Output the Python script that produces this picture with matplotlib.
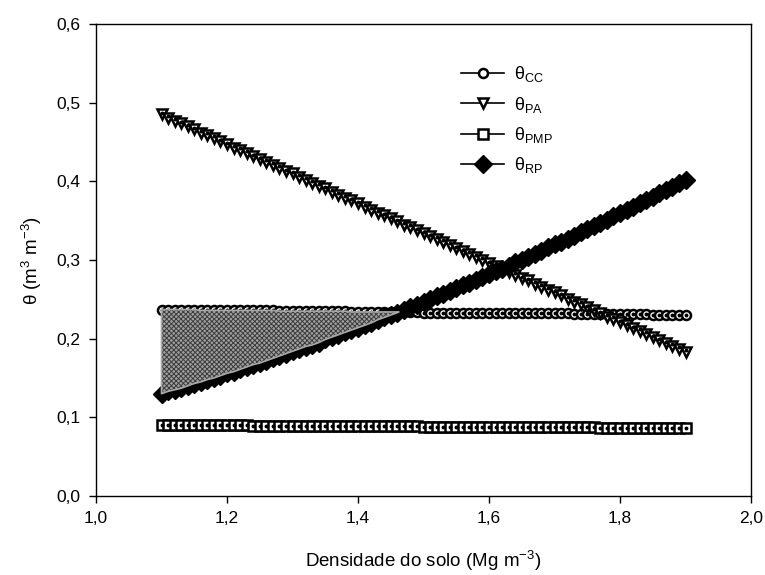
import numpy as np
import matplotlib.pyplot as plt

plt.rcParams['font.family'] = ['Liberation Sans', 'DejaVu Sans']
plt.rcParams['mathtext.fontset'] = 'custom'
plt.rcParams['mathtext.rm'] = 'Liberation Sans'
plt.rcParams['mathtext.it'] = 'Liberation Sans:italic'
plt.rcParams['hatch.linewidth'] = 0.7

# soil bulk density (Mg m-3), one point every 0.01
ds = np.round(np.arange(110, 191) / 100, 2)

theta_cc = [0.237] * 6 + [0.236] * 12 + [0.235] * 11 + [0.234] * 11 + \
           [0.233] * 12 + [0.232] * 11 + [0.231] * 12 + [0.230] * 6

theta_pa = [0.485, 0.481, 0.477, 0.474, 0.470, 0.466, 0.462, 0.459, 0.455, 0.451,
            0.447, 0.443, 0.440, 0.436, 0.432, 0.428, 0.425, 0.421, 0.417, 0.413,
            0.410, 0.406, 0.402, 0.398, 0.394, 0.391, 0.387, 0.383, 0.379, 0.376,
            0.372, 0.368, 0.364, 0.360, 0.357, 0.353, 0.349, 0.345, 0.342, 0.338,
            0.334, 0.330, 0.327, 0.323, 0.319, 0.315, 0.311, 0.308, 0.304, 0.300,
            0.296, 0.293, 0.289, 0.285, 0.281, 0.277, 0.274, 0.270, 0.266, 0.262,
            0.259, 0.255, 0.251, 0.247, 0.244, 0.240, 0.236, 0.232, 0.228, 0.225,
            0.221, 0.217, 0.213, 0.210, 0.206, 0.202, 0.198, 0.194, 0.191, 0.187,
            0.183]

theta_pmp = [0.090] * 14 + [0.089] * 26 + [0.088] * 27 + [0.087] * 14

theta_rp = [0.130, 0.133, 0.135, 0.137, 0.140, 0.143, 0.145, 0.148, 0.150, 0.153,
            0.156, 0.158, 0.161, 0.164, 0.167, 0.169, 0.172, 0.175, 0.178, 0.181,
            0.184, 0.187, 0.190, 0.192, 0.195, 0.199, 0.202, 0.205, 0.208, 0.211,
            0.214, 0.217, 0.220, 0.224, 0.227, 0.230, 0.233, 0.237, 0.240, 0.243,
            0.247, 0.250, 0.254, 0.257, 0.261, 0.264, 0.268, 0.271, 0.275, 0.278,
            0.282, 0.286, 0.289, 0.293, 0.297, 0.300, 0.304, 0.308, 0.312, 0.316,
            0.320, 0.323, 0.327, 0.331, 0.335, 0.339, 0.343, 0.347, 0.351, 0.356,
            0.360, 0.364, 0.368, 0.372, 0.376, 0.380, 0.385, 0.389, 0.393, 0.398,
            0.402]

labels = [r'θ$_{\mathrm{CC}}$', r'θ$_{\mathrm{PA}}$', r'θ$_{\mathrm{PMP}}$', r'θ$_{\mathrm{RP}}$']
xticks = [1.0, 1.2, 1.4, 1.6, 1.8, 2.0]
xticklabels = ['1,0', '1,2', '1,4', '1,6', '1,8', '2,0']
yticks = [0.0, 0.1, 0.2, 0.3, 0.4, 0.5, 0.6]
yticklabels = ['0,0', '0,1', '0,2', '0,3', '0,4', '0,5', '0,6']

fig = plt.figure(figsize=(7.65, 5.75), dpi=100)
ax = fig.add_axes([96 / 765, 1 - 496 / 575, 655 / 765, 472 / 575])

ms = 6.5
style = dict(color='black', lw=1.2, mec='black', mew=1.8, ms=ms)
l_cc, = ax.plot(ds, theta_cc, marker='o', mfc='white', label=labels[0], **style)
ax.plot(ds, theta_cc, ls='none', marker='o', ms=1.8, color='black')
l_pa, = ax.plot(ds, theta_pa, marker='v', mfc='white', label=labels[1], **style)
ax.plot(ds, np.array(theta_pa) + 0.002, ls='none', marker='o', ms=1.8, color='black')
l_pmp, = ax.plot(ds, theta_pmp, marker='s', mfc='white', label=labels[2], **style)
ax.plot(ds, theta_pmp, ls='none', marker='o', ms=1.8, color='black')
l_rp, = ax.plot(ds, theta_rp, marker='D', mfc='black', label=labels[3],
                color='black', lw=1.2, mec='black', mew=1, ms=9.5)

# least limiting water range: between RP and CC
cc = np.array(theta_cc)
rp = np.array(theta_rp)
ax.fill_between(ds, rp, cc, where=rp <= cc, interpolate=True,
                facecolor='#a0a0a0', edgecolor='#3c3c3c', hatch='xxxxxxx',
                linewidth=0, zorder=5)
ax.fill_between(ds, rp, cc, where=rp <= cc, interpolate=True,
                facecolor='none', edgecolor='#a8a8a8', linewidth=1.2, zorder=6)

ax.set_xlim(1.0, 2.0)
ax.set_ylim(0.0, 0.6)
ax.set_xticks(xticks)
ax.set_xticklabels(xticklabels)
ax.set_yticks(yticks)
ax.set_yticklabels(yticklabels)
ax.tick_params(direction='out', length=5, width=1, labelsize=12.5, pad=6,
               top=False, right=False)
for s in ax.spines.values():
    s.set_linewidth(1)

ax.set_xlabel('Densidade do solo (Mg m$^{-3}$)', fontsize=13.5, labelpad=16)
ax.set_ylabel('θ (m$^3$ m$^{-3}$)', fontsize=13.5, labelpad=9)

ax.legend(handles=[l_cc, l_pa, l_pmp, l_rp], loc='upper left',
          bbox_to_anchor=(452 / 765, 1 - 55 / 575), bbox_transform=fig.transFigure,
          frameon=False, fontsize=13, handlelength=2.4, handletextpad=0.55,
          labelspacing=0.58, borderpad=0)

fig.savefig('out.png', dpi=100)
